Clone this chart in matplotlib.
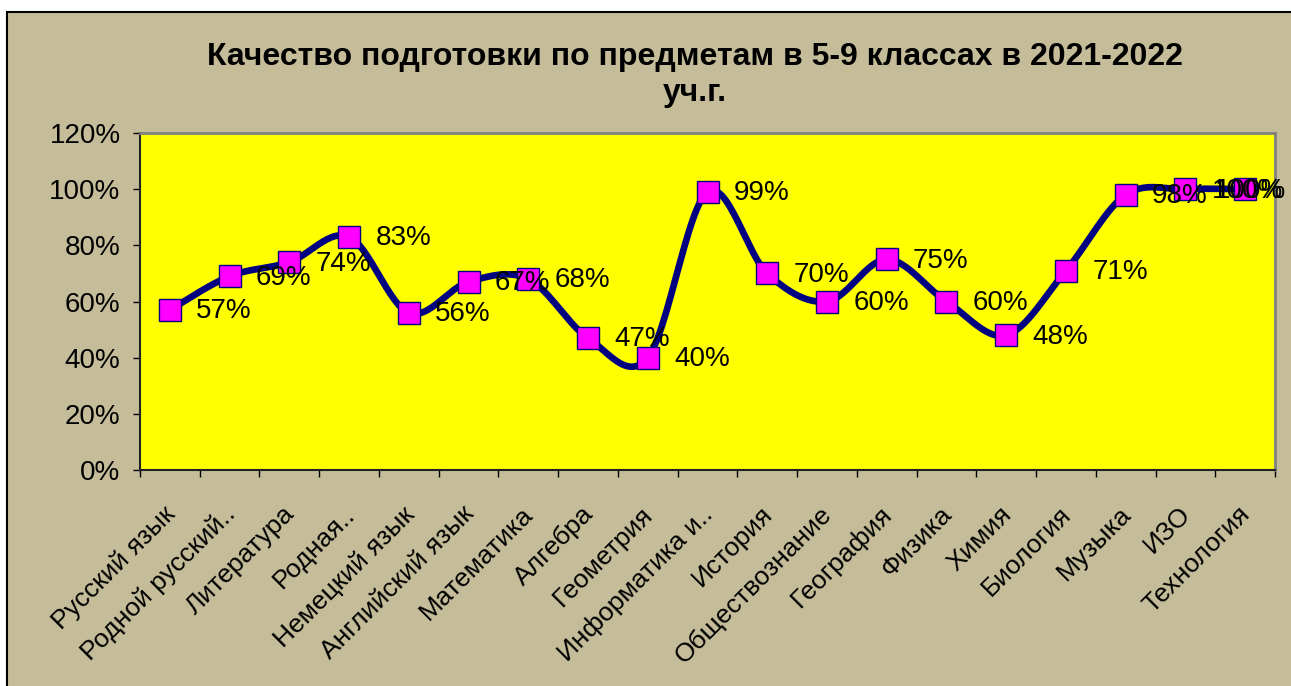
import numpy as np
import matplotlib
matplotlib.use("Agg")
import matplotlib.pyplot as plt
import matplotlib.transforms as mtransforms
from matplotlib.patches import Rectangle
from matplotlib.ticker import FuncFormatter

plt.rcParams['font.family'] = ['Liberation Sans', 'DejaVu Sans']

subjects = ["Русский язык", "Родной русский..", "Литература", "Родная..",
            "Немецкий язык", "Английский язык", "Математика", "Алгебра",
            "Геометрия", "Информатика и..", "История", "Обществознание",
            "География", "Физика", "Химия", "Биология", "Музыка", "ИЗО",
            "Технология"]
quality = [0.57, 0.69, 0.74, 0.83, 0.56, 0.67, 0.68, 0.47, 0.40, 0.99,
           0.70, 0.60, 0.75, 0.60, 0.48, 0.71, 0.98, 1.00, 1.00]
title = "Качество подготовки по предметам в 5-9 классах в 2021-2022\nуч.г."

bg = "#C5BD99"


def smooth(xs, ys, n=30):
    # Excel-style smoothed line: cubic Bezier with Catmull-Rom control points
    px = np.concatenate([[xs[0]], xs, [xs[-1]]])
    py = np.concatenate([[ys[0]], ys, [ys[-1]]])
    t = np.linspace(0, 1, n)[:, None]
    out = []
    for i in range(1, len(px) - 2):
        p0 = np.array([px[i - 1], py[i - 1]])
        p1 = np.array([px[i], py[i]])
        p2 = np.array([px[i + 1], py[i + 1]])
        p3 = np.array([px[i + 2], py[i + 2]])
        c1 = p1 + (p2 - p0) / 6
        c2 = p2 - (p3 - p1) / 6
        seg = ((1 - t) ** 3) * p1 + 3 * ((1 - t) ** 2) * t * c1 + 3 * (1 - t) * t ** 2 * c2 + t ** 3 * p2
        out.append(seg)
    out = np.vstack(out)
    return out[:, 0], out[:, 1]


fig = plt.figure(figsize=(12.91, 6.86), dpi=100, facecolor="white")
fig.patches.append(Rectangle((7 / 1291, -0.05), 1.1, 1 - 12 / 686 + 0.05,
                             transform=fig.transFigure, facecolor=bg,
                             edgecolor="black", linewidth=1.5, zorder=-10))

ax = fig.add_axes([140 / 1291, 1 - 470 / 686, (1275 - 140) / 1291, (470 - 133) / 686])
ax.set_facecolor("#FFFF00")

x = np.arange(len(subjects))
sx, sy = smooth(x.astype(float), np.array(quality))
ax.plot(sx, sy, color="#000080", linewidth=4.8, solid_capstyle="round", zorder=3)
ax.plot(x, quality, linestyle="none", marker="s", markersize=16,
        markerfacecolor="#FF00FF", markeredgecolor="#000080", markeredgewidth=1, zorder=4)

for i, (xi, v) in enumerate(zip(x, quality)):
    if i == len(x) - 1:
        # last label is pushed back inside the chart area
        ax.annotate(f"{v * 100:.0f}%", (xi, v), xytext=(29.5, -1), textcoords="offset points",
                    fontsize=20, va="center", ha="right", zorder=5, annotation_clip=False)
    else:
        ax.annotate(f"{v * 100:.0f}%", (xi, v), xytext=(19, -1), textcoords="offset points",
                    fontsize=20, va="center", ha="left", zorder=5, annotation_clip=False)

ax.set_xlim(-0.5, len(subjects) - 0.5)
ax.set_ylim(0, 1.2)
ax.set_yticks(np.arange(0, 1.21, 0.2))
ax.yaxis.set_major_formatter(FuncFormatter(lambda v, p: f"{v * 100:.0f}%"))
ax.tick_params(axis="y", labelsize=20, length=5, width=1, direction="out", pad=9)

ax.set_xticks(x)
ax.set_xticklabels(subjects, rotation=45, ha="right", rotation_mode="anchor", fontsize=19)
ax.set_xticks(np.arange(-0.5, len(subjects), 1), minor=True)
ax.tick_params(axis="x", which="major", length=0, pad=23)
ax.tick_params(axis="x", which="minor", length=5, width=1, direction="out")
shift = mtransforms.ScaledTranslation(-7 / 100, 0, fig.dpi_scale_trans)
for lbl in ax.get_xticklabels():
    lbl.set_transform(lbl.get_transform() + shift)

for s in ["top", "right"]:
    ax.spines[s].set_color("#808080")
    ax.spines[s].set_linewidth(2)
for s in ["left", "bottom"]:
    ax.spines[s].set_color("#222222")
    ax.spines[s].set_linewidth(1.5)

fig.text(695 / 1291, 1 - 75 / 686, title, ha="center", va="center",
         fontsize=23, fontweight="bold", linespacing=1.3)

fig.savefig("out.png", dpi=100, facecolor=fig.get_facecolor())
